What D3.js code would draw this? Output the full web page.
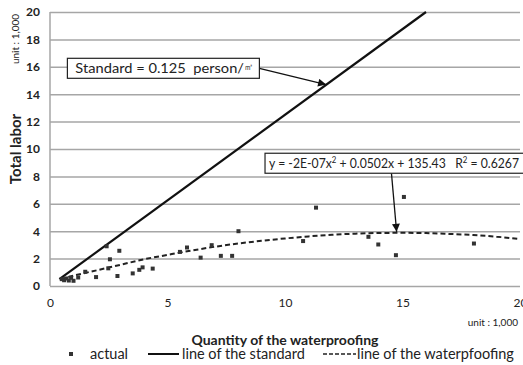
<!DOCTYPE html>
<html>
<head>
<meta charset="utf-8">
<script src="https://cdn.jsdelivr.net/npm/d3@7"></script>
<style>
  body { margin: 0; background: #fff; }
  svg text { font-family: Lato, "Open Sans", sans-serif; fill: #222; white-space: pre; }
</style>
</head>
<body>
<svg id="chart" width="523" height="365"></svg>
<script>
// values in units of 1,000
var actualX = [0.5, 0.6, 0.7, 0.8, 0.9, 1.0, 1.2, 1.5, 1.96, 2.41, 2.48, 2.55, 2.87, 2.95, 3.52, 3.8, 3.94, 4.37,
               5.53, 5.83, 6.41, 6.88, 7.27, 7.75, 8.02, 10.77, 11.32, 13.55, 13.97, 14.72, 15.06, 18.04];
var actualY = [0.5, 0.42, 0.55, 0.4, 0.6, 0.38, 0.62, 1.04, 0.65, 2.9, 1.29, 1.95, 0.73, 2.57, 0.92, 1.18, 1.36, 1.27,
               2.49, 2.81, 2.07, 2.98, 2.2, 2.2, 4.0, 3.28, 5.72, 3.59, 3.03, 2.25, 6.5, 3.1];

var standardX = [0.4, 16];
var standardY = [0.5, 20];

var trendX = [0.45, 1, 2, 3, 4, 5, 6, 7, 8, 9, 10, 11, 12, 13, 14, 15, 16, 17, 18, 19, 20];
var trendY = [0.5, 0.75, 1.15, 1.55, 1.95, 2.27, 2.58, 2.86, 3.1, 3.3, 3.47, 3.62, 3.74, 3.82, 3.87, 3.88, 3.86, 3.8, 3.72, 3.6, 3.42];

var xTicks = [0, 5, 10, 15, 20];
var yTicks = [0, 2, 4, 6, 8, 10, 12, 14, 16, 18, 20];

var margin = {top: 12, right: 3, bottom: 79, left: 50},
    width = 523 - margin.left - margin.right,
    height = 365 - margin.top - margin.bottom;

var x = d3.scaleLinear().domain([0, 20]).range([0, width]);
var y = d3.scaleLinear().domain([0, 20]).range([height, 0]);

var svg = d3.select("#chart");
svg.append("rect").attr("width", 523).attr("height", 365).attr("fill", "#fff");

var defs = svg.append("defs");
defs.append("marker")
    .attr("id", "arrow")
    .attr("viewBox", "0 0 10 10")
    .attr("refX", 10).attr("refY", 5)
    .attr("markerWidth", 10).attr("markerHeight", 8)
    .attr("markerUnits", "userSpaceOnUse")
    .attr("orient", "auto")
  .append("path")
    .attr("d", "M0,0 L10,5 L0,10 Z")
    .attr("fill", "#111");

var g = svg.append("g")
    .attr("transform", "translate(" + margin.left + "," + margin.top + ")");

// gridlines
g.append("g")
  .call(d3.axisLeft(y).tickValues(yTicks).tickSize(-width).tickFormat(""))
  .call(function(s) {
      s.select(".domain").remove();
      s.selectAll("line").attr("stroke", "#a6a6a6").attr("stroke-width", 1.5);
  });

// left frame
g.append("line").attr("x1", 0).attr("x2", 0).attr("y1", 0).attr("y2", height)
  .attr("stroke", "#a6a6a6").attr("stroke-width", 1.5);

// y tick labels
g.append("g")
  .call(d3.axisLeft(y).tickValues(yTicks).tickSize(0).tickPadding(10))
  .call(function(s) {
      s.select(".domain").remove();
      s.selectAll("text").style("font-size", "12px").style("font-weight", "bold").attr("fill", "#333");
  });

// x tick labels
g.append("g")
  .attr("transform", "translate(0," + height + ")")
  .call(d3.axisBottom(x).tickValues(xTicks).tickSize(0).tickPadding(12))
  .call(function(s) {
      s.select(".domain").remove();
      s.selectAll("text").style("font-size", "12px").attr("fill", "#333");
  });

// trend line (dashed)
var trend = trendX.map(function(d, i) { return [d, trendY[i]]; });
g.append("path")
  .datum(trend)
  .attr("fill", "none")
  .attr("stroke", "#222")
  .attr("stroke-width", 2)
  .attr("stroke-dasharray", "5,3")
  .attr("d", d3.line().curve(d3.curveMonotoneX)
      .x(function(d) { return x(d[0]); })
      .y(function(d) { return y(d[1]); }));

// standard line
var standard = standardX.map(function(d, i) { return [d, standardY[i]]; });
g.append("path")
  .datum(standard)
  .attr("fill", "none")
  .attr("stroke", "#111")
  .attr("stroke-width", 2.2)
  .attr("d", d3.line()
      .x(function(d) { return x(d[0]); })
      .y(function(d) { return y(d[1]); }));

// actual points
g.selectAll(".pt")
  .data(actualX.map(function(d, i) { return [d, actualY[i]]; }))
  .enter().append("rect")
  .attr("class", "pt")
  .attr("x", function(d) { return x(d[0]) - 2; })
  .attr("y", function(d) { return y(d[1]) - 2; })
  .attr("width", 4).attr("height", 4)
  .attr("fill", "#333");

// annotation: standard
var box1 = {x: 0.74, y: 16.62, w: 192, h: 20};
g.append("line")
  .attr("x1", x(box1.x) + box1.w).attr("y1", y(box1.y) + 10)
  .attr("x2", x(11.75)).attr("y2", y(14.7))
  .attr("stroke", "#111").attr("stroke-width", 1.3)
  .attr("marker-end", "url(#arrow)");
g.append("rect")
  .attr("x", x(box1.x)).attr("y", y(box1.y))
  .attr("width", box1.w).attr("height", box1.h)
  .attr("fill", "#fff").attr("stroke", "#222").attr("stroke-width", 1.2);
var t1 = g.append("text")
  .attr("x", x(box1.x) + 8).attr("y", y(box1.y) + 15)
  .attr("textLength", 178).attr("lengthAdjust", "spacingAndGlyphs")
  .style("font-size", "14px");
t1.append("tspan").text("Standard = 0.125  person/");
t1.append("tspan").text("㎡").style("font-size", "9px").attr("dy", -3);

// annotation: trend equation
var box2 = {x: 9.15, y: 9.69, w: 262, h: 20};
g.append("line")
  .attr("x1", x(14.53)).attr("y1", y(box2.y) + box2.h)
  .attr("x2", x(14.75)).attr("y2", y(3.88) - 1)
  .attr("stroke", "#111").attr("stroke-width", 1.3)
  .attr("marker-end", "url(#arrow)");
g.append("rect")
  .attr("x", x(box2.x)).attr("y", y(box2.y))
  .attr("width", box2.w).attr("height", box2.h)
  .attr("fill", "#fff").attr("stroke", "#222").attr("stroke-width", 1.2);
var t2 = g.append("text")
  .attr("x", x(box2.x) + 4).attr("y", y(box2.y) + 15)
  .attr("textLength", 250).attr("lengthAdjust", "spacingAndGlyphs")
  .style("font-size", "14px");
t2.append("tspan").text("y = -2E-07x");
t2.append("tspan").text("2").style("font-size", "9px").attr("dy", -5);
t2.append("tspan").text(" + 0.0502x + 135.43   R").attr("dy", 5);
t2.append("tspan").text("2").style("font-size", "9px").attr("dy", -5);
t2.append("tspan").text(" = 0.6267").attr("dy", 5);

// axis titles
svg.append("text")
  .attr("transform", "translate(21,149) rotate(-90)")
  .attr("text-anchor", "middle")
  .style("font-size", "15px").style("font-weight", "bold").attr("fill", "#111")
  .text("Total labor");
svg.append("text")
  .attr("transform", "translate(19,39) rotate(-90)")
  .attr("text-anchor", "middle")
  .style("font-size", "10px")
  .text("unit : 1,000");
svg.append("text")
  .attr("x", 518).attr("y", 326)
  .attr("text-anchor", "end")
  .style("font-size", "10px")
  .text("unit : 1,000");
svg.append("text")
  .attr("x", 285).attr("y", 345)
  .attr("text-anchor", "middle")
  .style("font-size", "14px").style("font-weight", "bold").attr("fill", "#111")
  .text("Quantity of the waterproofing");

// legend
var leg = svg.append("g").attr("transform", "translate(0,354)");
leg.append("rect").attr("x", 69).attr("y", -2).attr("width", 4).attr("height", 4).attr("fill", "#333");
leg.append("text").attr("x", 90).attr("y", 5).style("font-size", "14.5px").text("actual");
leg.append("line").attr("x1", 148).attr("x2", 179).attr("y1", 0).attr("y2", 0)
  .attr("stroke", "#111").attr("stroke-width", 2);
leg.append("text").attr("x", 182).attr("y", 5).style("font-size", "14.5px").text("line of the standard");
leg.append("line").attr("x1", 323).attr("x2", 356).attr("y1", 0).attr("y2", 0)
  .attr("stroke", "#222").attr("stroke-width", 1.5).attr("stroke-dasharray", "4,2");
leg.append("text").attr("x", 357).attr("y", 5).style("font-size", "14.5px").text("line of the waterpfoofing");
</script>
</body>
</html>
